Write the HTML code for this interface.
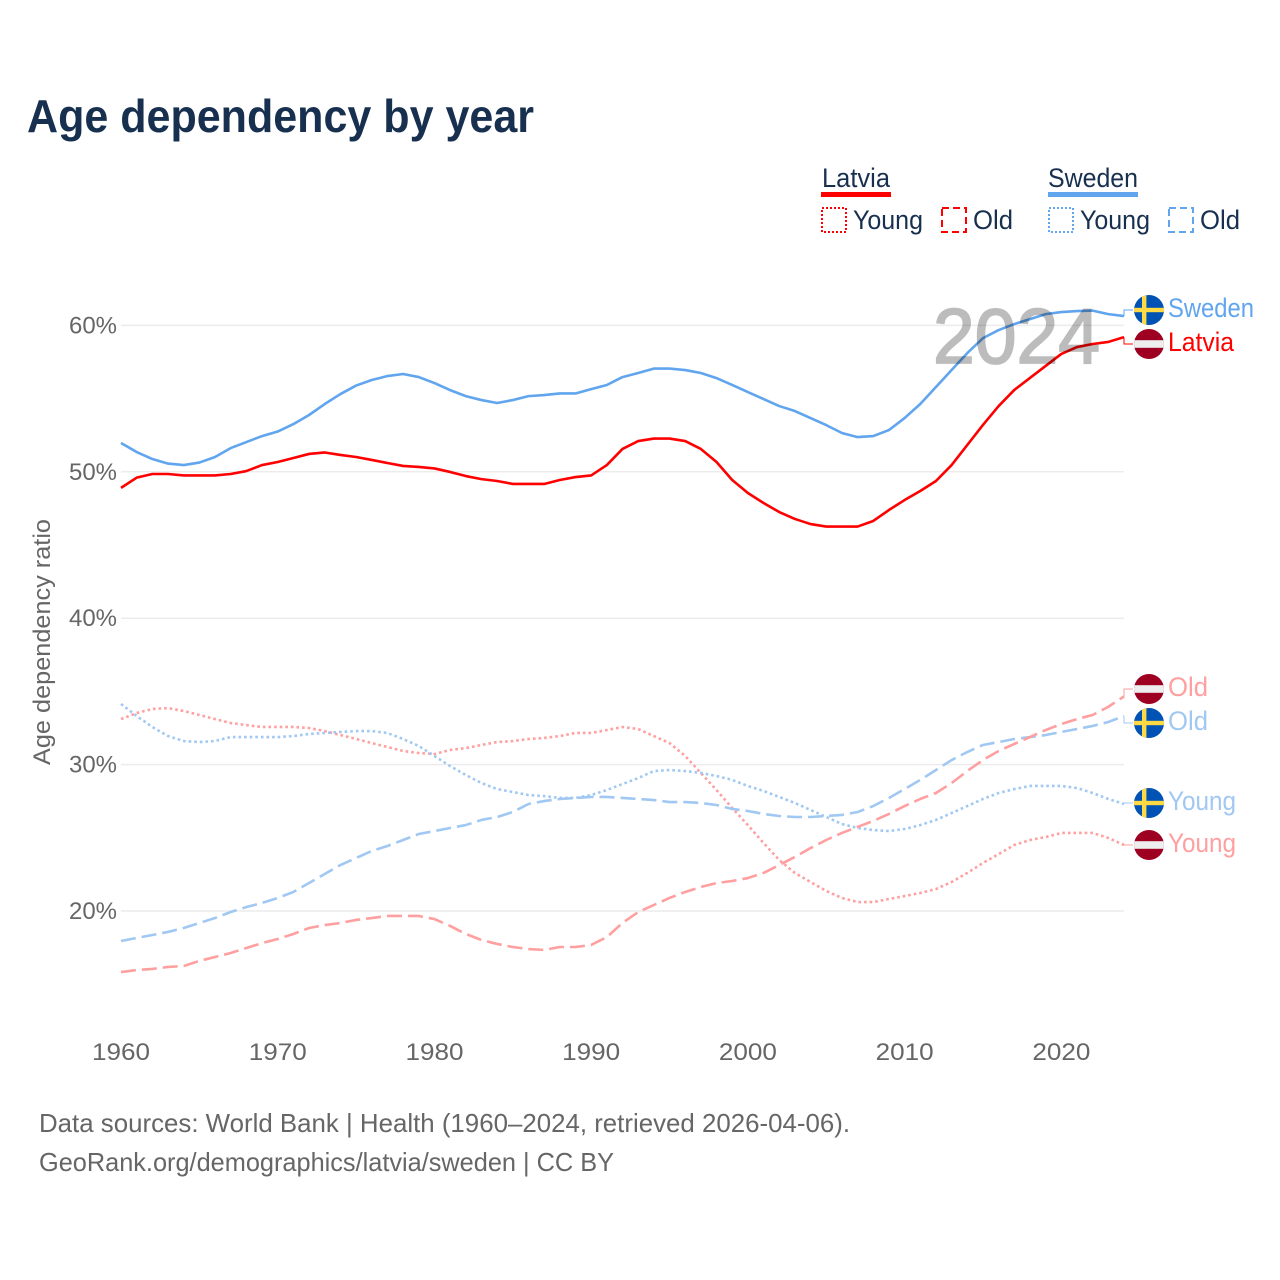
<!DOCTYPE html>
<html lang="en">
<head>
<meta charset="utf-8">
<title>Age dependency by year</title>
<style>
html,body{margin:0;padding:0;background:#fff;}
svg{display:block;font-family:"Liberation Sans",sans-serif;}
</style>
</head>
<body>
<svg id="chart" xmlns="http://www.w3.org/2000/svg" width="1280" height="1280" viewBox="0 0 1280 1280">
  <defs>
    <clipPath id="flag-clip"><circle cx="0" cy="0" r="15"/></clipPath>
  </defs>
  <rect width="1280" height="1280" fill="#fff"/>
  <text x="27" y="132" font-size="46" font-weight="700" fill="#18304f" textLength="507" lengthAdjust="spacingAndGlyphs">Age dependency by year</text>

  <g font-size="27" fill="#18304f">
    <text x="822" y="187" textLength="68" lengthAdjust="spacingAndGlyphs">Latvia</text>
    <rect x="821" y="192" width="70" height="5" fill="#ff0000"/>
    <rect x="822" y="208" width="24" height="24" fill="none" stroke="#ff0000" stroke-width="2" stroke-dasharray="2 2"/>
    <text x="853" y="229" textLength="70" lengthAdjust="spacingAndGlyphs">Young</text>
    <rect x="942" y="208" width="24" height="24" fill="none" stroke="#ff0000" stroke-width="2" stroke-dasharray="7 4"/>
    <text x="973" y="229" textLength="40" lengthAdjust="spacingAndGlyphs">Old</text>
    <text x="1048" y="187" textLength="90" lengthAdjust="spacingAndGlyphs">Sweden</text>
    <rect x="1048" y="192" width="90" height="5" fill="#60a5ee"/>
    <rect x="1049" y="208" width="24" height="24" fill="none" stroke="#60a5ee" stroke-width="2" stroke-dasharray="2 2"/>
    <text x="1080" y="229" textLength="70" lengthAdjust="spacingAndGlyphs">Young</text>
    <rect x="1169" y="208" width="24" height="24" fill="none" stroke="#60a5ee" stroke-width="2" stroke-dasharray="7 4"/>
    <text x="1200" y="229" textLength="40" lengthAdjust="spacingAndGlyphs">Old</text>
  </g>

  <g id="grid"></g>
  <g id="y-ticks"></g>
  <g id="x-ticks"></g>
  <text transform="translate(50,642) rotate(-90)" text-anchor="middle" font-size="24" fill="#666" textLength="246" lengthAdjust="spacingAndGlyphs">Age dependency ratio</text>
  <g id="series"></g>
  <g id="ends"></g>
  <g opacity="0.26">
    <text x="933" y="363" font-size="78" font-weight="400" fill="#000" stroke="#000" stroke-width="1.8" textLength="167" lengthAdjust="spacingAndGlyphs">2024</text>
  </g>

  <text x="39" y="1132" font-size="26" fill="#666" textLength="811" lengthAdjust="spacingAndGlyphs">Data sources: World Bank | Health (1960–2024, retrieved 2026-04-06).</text>
  <text x="39" y="1171" font-size="26" fill="#666" textLength="575" lengthAdjust="spacingAndGlyphs">GeoRank.org/demographics/latvia/sweden | CC BY</text>

  <script>
    var firstYear = 1960;
    var lastYear = 2024;
    var yTickValues = [20, 30, 40, 50, 60];
    var yTickLabels = ["20%", "30%", "40%", "50%", "60%"];
    var xTickValues = [1960, 1970, 1980, 1990, 2000, 2010, 2020];
    var xTickLabels = ["1960", "1970", "1980", "1990", "2000", "2010", "2020"];

    var latviaTotal = [48.9,49.6,49.85,49.85,49.75,49.75,49.75,49.85,50.05,50.46,50.67,50.94,51.22,51.32,51.15,51.01,50.81,50.6,50.4,50.33,50.23,49.99,49.71,49.5,49.37,49.17,49.17,49.17,49.44,49.64,49.75,50.46,51.56,52.1,52.27,52.27,52.1,51.56,50.67,49.44,48.55,47.87,47.25,46.78,46.43,46.26,46.26,46.26,46.64,47.39,48.07,48.69,49.37,50.46,51.83,53.2,54.49,55.59,56.41,57.23,58.05,58.52,58.73,58.87,59.2];
    var swedenTotal = [51.97,51.35,50.87,50.56,50.46,50.63,51.01,51.62,52.03,52.44,52.75,53.26,53.88,54.63,55.31,55.89,56.27,56.54,56.68,56.47,56.06,55.58,55.17,54.9,54.7,54.9,55.17,55.24,55.35,55.35,55.65,55.93,56.47,56.75,57.05,57.05,56.95,56.75,56.4,55.93,55.45,54.97,54.49,54.15,53.67,53.19,52.65,52.37,52.44,52.85,53.67,54.63,55.79,56.95,58.11,59.13,59.68,60.09,60.43,60.77,60.91,60.98,61.01,60.77,60.64];
    var latviaYoung = [33.11,33.52,33.8,33.86,33.66,33.39,33.11,32.84,32.7,32.57,32.57,32.57,32.5,32.29,32.02,31.75,31.47,31.2,30.93,30.79,30.72,31.0,31.13,31.34,31.54,31.61,31.75,31.82,31.95,32.16,32.16,32.36,32.57,32.43,31.95,31.47,30.59,29.43,28.26,27.03,25.87,24.64,23.48,22.6,21.98,21.37,20.89,20.61,20.61,20.82,21.02,21.23,21.5,21.98,22.6,23.28,23.89,24.51,24.85,25.05,25.33,25.33,25.33,24.99,24.51];
    var swedenYoung = [34.14,33.32,32.57,31.95,31.61,31.54,31.61,31.88,31.88,31.88,31.88,31.95,32.09,32.16,32.23,32.29,32.29,32.16,31.75,31.27,30.59,29.9,29.29,28.74,28.33,28.13,27.92,27.85,27.72,27.72,27.92,28.26,28.67,29.08,29.56,29.63,29.56,29.43,29.22,28.95,28.54,28.2,27.79,27.38,26.9,26.42,25.94,25.67,25.53,25.46,25.6,25.87,26.22,26.69,27.17,27.65,28.06,28.33,28.54,28.54,28.54,28.4,28.06,27.65,27.31];
    var latviaOld = [15.83,15.97,16.04,16.18,16.24,16.59,16.86,17.13,17.47,17.81,18.09,18.43,18.84,19.04,19.18,19.39,19.52,19.66,19.66,19.66,19.45,18.98,18.43,18.02,17.75,17.54,17.4,17.34,17.54,17.54,17.68,18.22,19.18,19.93,20.41,20.89,21.3,21.64,21.91,22.05,22.25,22.6,23.14,23.69,24.3,24.85,25.33,25.74,26.15,26.63,27.17,27.65,28.06,28.74,29.56,30.31,30.93,31.41,31.88,32.36,32.77,33.11,33.39,33.95,34.65];
    var swedenOld = [17.95,18.16,18.36,18.57,18.84,19.18,19.52,19.93,20.27,20.55,20.89,21.3,21.91,22.53,23.14,23.62,24.1,24.44,24.85,25.26,25.46,25.67,25.87,26.22,26.42,26.76,27.31,27.51,27.65,27.72,27.79,27.79,27.72,27.65,27.58,27.44,27.44,27.38,27.24,26.97,26.83,26.63,26.49,26.42,26.42,26.49,26.56,26.76,27.17,27.72,28.33,28.95,29.63,30.31,30.86,31.34,31.54,31.75,31.88,32.02,32.23,32.43,32.64,32.91,33.32];

    var NS = "http://www.w3.org/2000/svg";
    function xScale(year) { return 121 + (year - firstYear) * (1124 - 121) / (lastYear - firstYear); }
    function yScale(pct) { return 911 - (pct - 20) * 14.64; }

    function make(tag, parent, attrs) {
      var el = document.createElementNS(NS, tag);
      for (var k in attrs) { el.setAttribute(k, attrs[k]); }
      parent.appendChild(el);
      return el;
    }

    var gridG = document.getElementById("grid");
    var yG = document.getElementById("y-ticks");
    var xG = document.getElementById("x-ticks");

    yTickValues.forEach(function (v, i) {
      var line = make("line", gridG, { x1: 121, x2: 1124, y1: yScale(v), y2: yScale(v), stroke: "#ececec", "stroke-width": 1.5 });
      
      
      var t = make("text", yG, { x: 117, y: yScale(v) + 8, "text-anchor": "end", "font-size": 24, fill: "#666", textLength: 48, lengthAdjust: "spacingAndGlyphs" });
      
      
      t.textContent = yTickLabels[i];
    });

    xTickValues.forEach(function (v, i) {
      var t = make("text", xG, { x: xScale(v), y: 1060, "text-anchor": "middle", "font-size": 24, fill: "#666", textLength: 58, lengthAdjust: "spacingAndGlyphs" });
      
      
      t.textContent = xTickLabels[i];
    });

    function drawLine(values, name, color, dash) {
      var d = values.map(function (v, i) {
        return (i ? "L" : "M") + xScale(firstYear + i).toFixed(2) + " " + yScale(v).toFixed(2);
      }).join("");
      var p = make("path", document.getElementById("series"), { d: d, fill: "none", stroke: color, "stroke-width": 2.6, "stroke-linejoin": "round" });
      if (dash) { p.setAttribute("stroke-dasharray", dash); }
      
      
    }

    var RED = "#ff0000", BLUE = "#60a5ee", PALE_RED = "#ff9f9f", PALE_BLUE = "#a0c8f2";
    var DOT = "2.6 3", DASH = "15 6";
    drawLine(latviaYoung, "latvia-young-line", PALE_RED, DOT);
    drawLine(swedenYoung, "sweden-young-line", PALE_BLUE, DOT);
    drawLine(swedenOld, "sweden-old-line", PALE_BLUE, DASH);
    drawLine(latviaOld, "latvia-old-line", PALE_RED, DASH);
    drawLine(swedenTotal, "sweden-total-line", BLUE, null);
    drawLine(latviaTotal, "latvia-total-line", RED, null);

    function drawFlag(parent, country, cy) {
      var g = make("g", parent, { transform: "translate(1149," + cy + ")", "clip-path": "url(#flag-clip)" });
      
      
      if (country === "latvia") {
        make("rect", g, { x: -15, y: -15, width: 30, height: 30, fill: "#9e0022" });
        make("rect", g, { x: -15, y: -3.8, width: 30, height: 7.6, fill: "#eeeeee" });
      } else {
        make("rect", g, { x: -15, y: -15, width: 30, height: 30, fill: "#0052b4" });
        make("rect", g, { x: -15, y: -2.2, width: 30, height: 4.4, fill: "#ffda44" });
        make("rect", g, { x: -7, y: -15, width: 4.4, height: 30, fill: "#ffda44" });
      }
    }

    function drawEnd(values, country, text, color, cy, labelWidth) {
      var endsG = document.getElementById("ends");
      var yEnd = yScale(values[values.length - 1]).toFixed(1);
      var c = make("path", endsG, { d: "M1124 " + yEnd + "V" + cy + "H1133", fill: "none", stroke: color, "stroke-width": 1 });
      
      
      drawFlag(endsG, country, cy);
      var t = make("text", endsG, { x: 1168, y: cy + 7, "font-size": 27, fill: color, textLength: labelWidth, lengthAdjust: "spacingAndGlyphs" });
      
      
      t.textContent = text;
    }

    drawEnd(swedenTotal, "sweden", "Sweden", BLUE, 310, 86);
    drawEnd(latviaTotal, "latvia", "Latvia", RED, 344, 66);
    drawEnd(latviaOld, "latvia", "Old", PALE_RED, 689, 40);
    drawEnd(swedenOld, "sweden", "Old", PALE_BLUE, 723, 40);
    drawEnd(swedenYoung, "sweden", "Young", PALE_BLUE, 803, 68);
    drawEnd(latviaYoung, "latvia", "Young", PALE_RED, 845, 68);
  </script>
</svg>
</body>
</html>
